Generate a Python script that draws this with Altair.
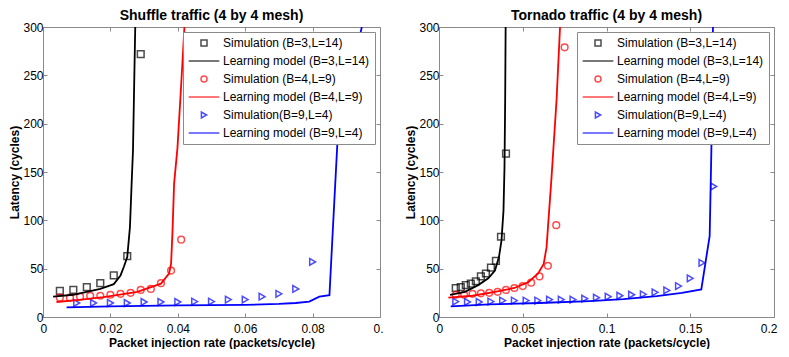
import altair as alt
import pandas as pd

# ---------------- data ----------------
SERIES = [
    "Simulation (B=3,L=14)",
    "Learning model (B=3,L=14)",
    "Simulation (B=4,L=9)",
    "Learning model (B=4,L=9)",
    "Simulation(B=9,L=4)",
    "Learning model (B=9,L=4)",
]
COLORS = ["#000000", "#000000", "#ff0000", "#ff0000", "#0000ff", "#0000ff"]
LINE_SYMBOL = "M-5.1,0L5.1,0"
SHAPES = ["square", LINE_SYMBOL, "circle", LINE_SYMBOL, "triangle-right", LINE_SYMBOL]

Y_TICKS = [0, 50, 100, 150, 200, 250, 300]

# Shuffle traffic
SH_X_SIM_B3 = [0.005, 0.009, 0.013, 0.017, 0.021, 0.025, 0.029]
SH_Y_SIM_B3 = [27, 28, 31, 35, 43, 63, 272]
SH_X_LM_B3 = [0.003, 0.009, 0.013, 0.017, 0.021, 0.023, 0.024, 0.025, 0.0258, 0.0263, 0.0267, 0.027, 0.0274]
SH_Y_LM_B3 = [21, 23, 26, 29, 34, 43, 52, 62, 93, 138, 172, 230, 305]

SH_X_SIM_B4 = [0.005, 0.008, 0.011, 0.014, 0.017, 0.020, 0.023, 0.026, 0.029, 0.032, 0.035, 0.038, 0.041]
SH_Y_SIM_B4 = [20, 20, 21, 22, 22, 23, 24, 25, 28, 29, 35, 48, 80]
SH_X_LM_B4 = [0.004, 0.01, 0.018, 0.028, 0.035, 0.0374, 0.038, 0.0384, 0.0389, 0.0399, 0.041, 0.042]
SH_Y_LM_B4 = [15.5, 17.5, 20.5, 26, 34.5, 45, 55, 86, 138, 175, 240, 302]

SH_X_SIM_B9 = [0.010, 0.015, 0.020, 0.025, 0.030, 0.035, 0.040, 0.045, 0.050, 0.055, 0.060, 0.065, 0.070, 0.075, 0.080]
SH_Y_SIM_B9 = [14.5, 14.5, 14.5, 14.5, 15.5, 15.5, 15.5, 16, 16, 18, 18, 21, 24, 29, 57]
SH_X_LM_B9 = [0.007, 0.02, 0.04, 0.06, 0.07, 0.075, 0.079, 0.082, 0.085, 0.086, 0.0874, 0.0946]
SH_Y_LM_B9 = [10, 11, 12, 12.5, 13.5, 14.5, 16, 21, 22.5, 90, 183, 300]

# Tornado traffic
TO_X_SIM_B3 = [0.010, 0.013, 0.016, 0.019, 0.022, 0.025, 0.028, 0.031, 0.034, 0.037, 0.040]
TO_Y_SIM_B3 = [30, 31, 33, 34.5, 37, 42, 45, 51, 58, 83, 169]
TO_X_LM_B3 = [0.0066, 0.0155, 0.0234, 0.0294, 0.0334, 0.0358, 0.0373, 0.0385, 0.0391, 0.0395, 0.0398]
TO_Y_LM_B3 = [23, 26, 33, 40, 48, 62, 79, 110, 155, 224, 305]

TO_X_SIM_B4 = [0.010, 0.015, 0.020, 0.025, 0.030, 0.035, 0.040, 0.045, 0.050, 0.055, 0.060, 0.065, 0.070, 0.075]
TO_Y_SIM_B4 = [23, 23, 24, 24.5, 25, 26, 28, 30, 32, 35.5, 42, 53, 95, 279]
TO_X_LM_B4 = [0.0056, 0.02, 0.0334, 0.045, 0.0533, 0.0592, 0.0625, 0.0642, 0.0672, 0.0702, 0.0724]
TO_Y_LM_B4 = [20, 22, 26, 30, 36, 45, 55, 72, 145, 225, 305]

TO_X_SIM_B9 = [0.010, 0.017, 0.024, 0.031, 0.038, 0.045, 0.052, 0.059, 0.066, 0.073, 0.080, 0.087,
               0.094, 0.101, 0.108, 0.115, 0.122, 0.129, 0.136, 0.143, 0.150, 0.157, 0.164]
TO_Y_SIM_B9 = [16, 15.5, 15.5, 16, 17, 17, 17, 17, 18, 18, 18, 19,
               20, 21, 22, 23, 23.5, 25.5, 27.5, 32, 40, 56, 135]
TO_X_LM_B9 = [0.007, 0.03, 0.06, 0.09, 0.11, 0.13, 0.145, 0.1566, 0.1616, 0.1626, 0.1636]
TO_Y_LM_B9 = [11, 13, 14.5, 16.5, 18.5, 21.5, 25, 28.5, 84, 172, 305]

SH_X_TICKS = [0, 0.02, 0.04, 0.06, 0.08, 0.1]
TO_X_TICKS = [0, 0.05, 0.1, 0.15, 0.2]


def table(parts):
    rows = []
    for name, xs, ys in parts:
        for i, (x, y) in enumerate(zip(xs, ys)):
            rows.append({"series": name, "x": x, "y": y, "order": i})
    return pd.DataFrame(rows)


FONT = "Liberation Sans"
FRAME = "#8a8a8a"


def panel(title, sim, lm, xmax, xticks, label_expr, width):
    color = alt.Color("series:N", scale=alt.Scale(domain=SERIES, range=COLORS), legend=alt.Legend(title=None))
    shape = alt.Shape("series:N", scale=alt.Scale(domain=SERIES, range=SHAPES), legend=alt.Legend(title=None))
    xs = alt.Scale(domain=[0, xmax], nice=False, zero=True)
    ys = alt.Scale(domain=[0, 300], nice=False)

    points = alt.Chart(sim).mark_point(filled=False, size=45, strokeWidth=1.5, clip=True).encode(
        x=alt.X("x:Q", scale=xs, axis=alt.Axis(orient="top", offset=-4, tickSize=4, values=xticks,
                                             labels=False, title=None, domain=False)),
        y=alt.Y("y:Q", scale=ys, axis=alt.Axis(orient="right", offset=-4, tickSize=4, values=Y_TICKS,
                                             labels=False, title=None, domain=False)),
        color=color,
        shape=shape,
    )
    lines = alt.Chart(lm).mark_line(strokeWidth=1.8, clip=True).encode(
        x=alt.X("x:Q", scale=xs, axis=alt.Axis(orient="bottom", offset=-4, tickSize=4, values=xticks,
                                             labelExpr=label_expr, labelPadding=6, titlePadding=3,
                                             labelFlush=True, labelFlushOffset=3,
                                             title="Packet injection rate (packets/cycle)", domain=False)),
        y=alt.Y("y:Q", scale=ys, axis=alt.Axis(orient="left", offset=-4, tickSize=4, values=Y_TICKS,
                                             labelPadding=0, titlePadding=1,
                                             title="Latency (cycles)", domain=False)),
        color=color,
        order="order:Q",
    )
    return (
        alt.layer(points, lines)
        .resolve_axis(x="independent", y="independent")
        .properties(width=width, height=290, title=alt.TitleParams(title))
    )


shuffle = panel(
    "Shuffle traffic (4 by 4 mesh)",
    table([(SERIES[0], SH_X_SIM_B3, SH_Y_SIM_B3), (SERIES[2], SH_X_SIM_B4, SH_Y_SIM_B4),
           (SERIES[4], SH_X_SIM_B9, SH_Y_SIM_B9)]),
    table([(SERIES[1], SH_X_LM_B3, SH_Y_LM_B3), (SERIES[3], SH_X_LM_B4, SH_Y_LM_B4),
           (SERIES[5], SH_X_LM_B9, SH_Y_LM_B9)]),
    0.1, SH_X_TICKS, "datum.value == 0.1 ? '0.' : format(datum.value, '~g')", 337,
)
tornado = panel(
    "Tornado traffic (4 by 4 mesh)",
    table([(SERIES[0], TO_X_SIM_B3, TO_Y_SIM_B3), (SERIES[2], TO_X_SIM_B4, TO_Y_SIM_B4),
           (SERIES[4], TO_X_SIM_B9, TO_Y_SIM_B9)]),
    table([(SERIES[1], TO_X_LM_B3, TO_Y_LM_B3), (SERIES[3], TO_X_LM_B4, TO_Y_LM_B4),
           (SERIES[5], TO_X_LM_B9, TO_Y_LM_B9)]),
    0.2, TO_X_TICKS, "format(datum.value, '~g')", 335,
)

chart = (
    alt.hconcat(shuffle, tornado, spacing=20)
    .resolve_scale(color="independent", shape="independent")
    .properties(padding={"left": 0, "top": 0, "right": 0, "bottom": 0}, background="white")
    .configure_view(stroke=FRAME, strokeWidth=1)
    .configure_axis(labelFont=FONT, labelFontSize=12, labelColor="black", titleFont=FONT,
                    titleFontSize=12, titleFontWeight="bold", titleColor="black",
                    tickColor=FRAME, grid=False)
    .configure_title(font=FONT, fontSize=14, fontWeight="bold", color="black", anchor="middle", offset=-2)
    .configure_legend(orient="top-right", offset=5, padding=5, fillColor="white", strokeColor=FRAME,
                      labelFont=FONT, labelFontSize=12, labelColor="black", labelLimit=300,
                      symbolSize=36, symbolStrokeWidth=1.5, symbolOffset=10, labelOffset=13,
                      rowPadding=6)
)

chart.save("out.html", embed_options={"renderer": "svg", "actions": False})
